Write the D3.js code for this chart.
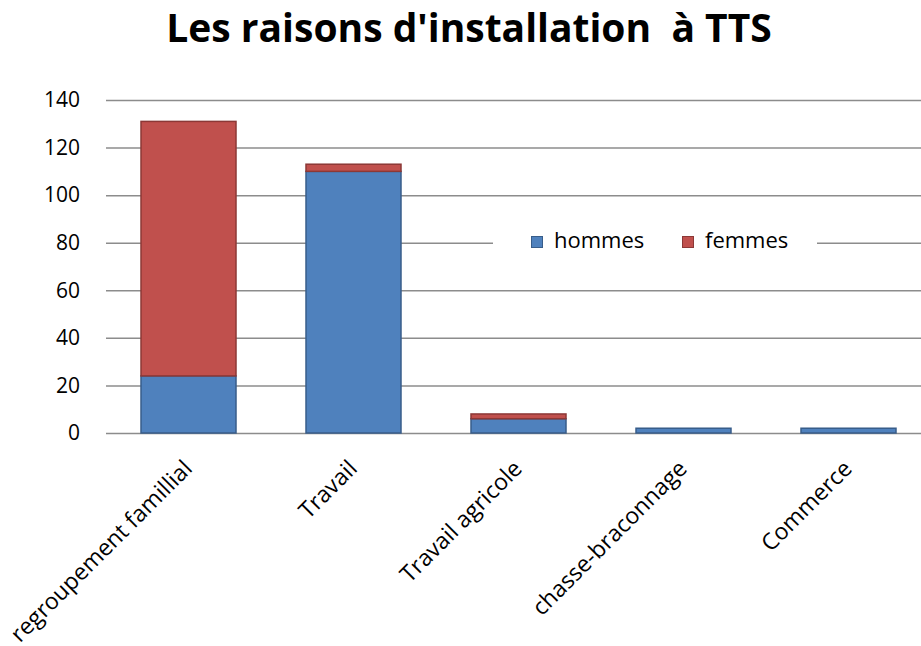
<!DOCTYPE html>
<html>
<head>
<meta charset="utf-8">
<script src="https://cdn.jsdelivr.net/npm/d3@7"></script>
<style>
  body { margin: 0; background: #fff; }
  svg { font-family: "Open Sans", "Noto Sans", sans-serif; }
</style>
</head>
<body>
<div id="chart"></div>
<script>
var categories = ["regroupement famillial", "Travail", "Travail agricole", "chasse-braconnage", "Commerce"];
var hommes = [24, 110, 6, 2, 2];
var femmes = [107, 3, 2, 0, 0];
var yTicks = [0, 20, 40, 60, 80, 100, 120, 140];
var seriesNames = ["hommes", "femmes"];
var colors = {hommes: "#4F81BD", femmes: "#C0504D"};
var strokes = {hommes: "#385D8A", femmes: "#8C3836"};

var svgWidth = 921;
var svgHeight = 646;

var svg = d3.select("#chart")
    .append("svg")
    .attr("width", svgWidth)
    .attr("height", svgHeight);

// plot area (runs past the right edge like the original)
var plotLeft = 106, plotRight = 931, plotTop = 100, plotBottom = 433;

var rows = categories.map(function(c, i) {
    return {cat: c, hommes: hommes[i], femmes: femmes[i]};
});

var stack = d3.stack().keys(seriesNames)(rows);

var x = d3.scaleBand()
    .domain(categories)
    .range([plotLeft, plotRight])
    .paddingInner(70 / 165)
    .paddingOuter(35 / 165);

var y = d3.scaleLinear()
    .domain([0, 140])
    .range([plotBottom, plotTop]);

// title
svg.append("text")
    .attr("x", 469)
    .attr("y", 42)
    .attr("text-anchor", "middle")
    .style("font-size", "39px")
    .style("font-weight", "bold")
    .style("white-space", "pre")
    .text("Les raisons d'installation  \u00e0 TTS");

// gridlines + y labels
var leftAxis = d3.axisLeft(y)
    .tickValues(yTicks)
    .tickSize(-(plotRight - plotLeft))
    .tickPadding(26);

var yAxis = svg.append("g")
    .attr("transform", `translate(${plotLeft},0)`)
    .call(leftAxis);
yAxis.select(".domain").remove();
yAxis.selectAll(".tick line")
    .attr("stroke", "#8c8c8c")
    .attr("stroke-width", 1.5);
yAxis.selectAll(".tick text")
    .style("font-size", "21px")
    .attr("fill", "#000")
    .style("font-family", "'Open Sans', sans-serif");

// bars
var layers = svg.selectAll(".layer")
    .data(stack)
    .enter()
    .append("g")
    .attr("fill", d => colors[d.key])
    .attr("stroke", d => strokes[d.key]);

layers.selectAll("rect")
    .data(d => d.filter(s => s[1] - s[0] > 0))
    .enter()
    .append("rect")
    .attr("x", d => x(d.data.cat))
    .attr("y", d => y(d[1]))
    .attr("width", x.bandwidth())
    .attr("height", d => y(d[0]) - y(d[1]))
    .attr("stroke-width", 1.5);

// x labels
svg.selectAll(".xlab")
    .data(categories)
    .enter()
    .append("text")
    .attr("class", "xlab")
    .attr("transform", d => `translate(${x(d) + x.bandwidth() / 2 + 5},${plotBottom + 37}) rotate(-45)`)
    .attr("text-anchor", "end")
    .style("font-size", "23px")
    .text(d => d);

// legend
var legend = svg.append("g");
legend.append("rect")
    .attr("x", 493)
    .attr("y", 229)
    .attr("width", 324)
    .attr("height", 28)
    .attr("fill", "#fff");

var legendX = [531, 682];
seriesNames.forEach(function(k, i) {
    legend.append("rect")
        .attr("x", legendX[i] + 0.5)
        .attr("y", 236.5)
        .attr("width", 11)
        .attr("height", 11)
        .attr("fill", colors[k])
        .attr("stroke", strokes[k]);
    legend.append("text")
        .attr("x", legendX[i] + 23)
        .attr("y", 248)
        .style("font-size", "22px")
        .text(k);
});
</script>
</body>
</html>
